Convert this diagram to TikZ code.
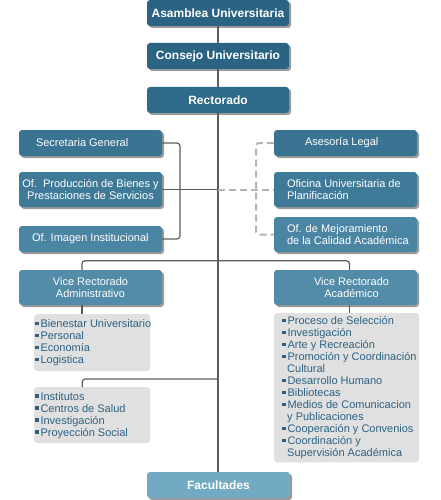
\documentclass[tikz,border=0pt]{standalone}
\usepackage{fontspec}
\setmainfont{Liberation Sans}
\usetikzlibrary{shadows}

\definecolor{topblue}{HTML}{2B6483}
\definecolor{rectblue}{HTML}{2E6A89}
\definecolor{rowa}{HTML}{3A7492}
\definecolor{rowb}{HTML}{3F7A99}
\definecolor{rowc}{HTML}{4A86A3}
\definecolor{viceblue}{HTML}{528CA9}
\definecolor{facblue}{HTML}{73AAC3}
\definecolor{listgray}{HTML}{E0E0E0}
\definecolor{itemblue}{HTML}{2D6283}
\definecolor{linegray}{HTML}{5C5C5C}
\definecolor{dashgray}{HTML}{B4B4B4}
\definecolor{shadowgray}{HTML}{9A9A9A}

\newcommand{\itm}[1]{\mbox{\rule[2.5pt]{3.5pt}{3.5pt}\,#1}}
\newcommand{\cnt}[1]{\mbox{\hspace*{5pt}#1}}

\begin{document}
\begin{tikzpicture}[x=1pt, y=-1pt,
    unit/.style={rounded corners=3pt, text=white, inner sep=0pt, minimum width=143pt, minimum height=26pt,
        font=\fontsize{11}{12}\selectfont,
        drop shadow={shadow xshift=2pt, shadow yshift=-2pt, fill=shadowgray, opacity=1}},
    head/.style={unit, fill=topblue, minimum width=142pt, font=\fontsize{12}{13}\bfseries\selectfont},
    lbox/.style={unit, align=flush left},
    list/.style={rounded corners=3pt, fill=listgray, text=itemblue, anchor=north west, align=flush left,
        font=\fontsize{11}{12}\selectfont},
    line/.style={linegray, line width=1.2pt},
    dline/.style={dashgray, line width=2pt, dash pattern=on 7pt off 4pt}]
    \useasboundingbox (0,0) rectangle (440,500);

    % top of the chart
    \node[head] (asam) at (218,13) {Asamblea Universitaria};
    \node[head] (cons) at (218,56) {Consejo Universitario};
    \node[head, fill=rectblue] (rect) at (218,100) {Rectorado};

    % staff offices
    \node[lbox, fill=rowa, text width=109pt, inner xsep=17pt] (sec) at (90.5,143) {\mbox{Secretaria General}};
    \node[unit, fill=rowb, minimum height=35pt, align=center] (prod) at (90.5,189.5) {Of.\ \ Producción de Bienes y\\Prestaciones de Servicios};
    \node[lbox, fill=rowc, text width=117pt, inner xsep=13pt] (img) at (90.5,239) {\mbox{Of. Imagen Institucional}};
    \node[lbox, fill=rowa, text width=81pt, inner xsep=31pt] (ase) at (345.5,143) {\mbox{Asesoría Legal}};
    \node[lbox, fill=rowb, minimum height=35pt, text width=117pt, inner xsep=13pt] (ofi) at (345.5,189.5) {\mbox{Oficina Universitaria de}\\\mbox{Planificación}};
    \node[lbox, fill=rowc, minimum height=35pt, text width=117pt, inner xsep=13pt] (mej) at (345.5,234.5) {\mbox{Of. de Mejoramiento}\\\mbox{de la Calidad Académica}};

    % vice rectorados
    \node[unit, fill=viceblue, minimum height=35pt, align=center] (via) at (90.5,287.5) {Vice Rectorado\\Administrativo};
    \node[unit, fill=viceblue, minimum height=35pt, align=center] (vac) at (345.5,287.5) {\hspace*{12pt}Vice Rectorado\\\hspace*{12pt}Académico};

    % lists
    \node[list, minimum width=116pt, minimum height=57pt, text width=114pt, inner xsep=1pt] (lsta) at (34,314)
        {\itm{Bienestar Universitario}\\\itm{Personal}\\\itm{Economía}\\\itm{Logistica}};
    \node[list, minimum width=116pt, minimum height=56pt, text width=114pt, inner xsep=1pt] (lstb) at (34,387)
        {\itm{Institutos}\\\itm{Centros de Salud}\\\itm{Investigación}\\\itm{Proyección Social}};
    \node[list, minimum width=145pt, minimum height=149pt, text width=129pt, inner xsep=8pt] (lstc) at (274,313)
        {\itm{Proceso de Selección}\\\itm{Investigación}\\\itm{Arte y Recreación}\\\itm{Promoción y Coordinación}\\
         \cnt{Cultural}\\\itm{Desarrollo Humano}\\\itm{Bibliotecas}\\\itm{Medios de Comunicacion}\\
         \cnt{y Publicaciones}\\\itm{Cooperación y Convenios}\\\itm{Coordinación y}\\
         \cnt{Supervisión Académica}};

    % bottom
    \node[head, fill=facblue, minimum width=143pt] (fac) at (218.5,485) {Facultades};

    % connectors
    \coordinate (hub) at (rect.south |- prod.east);
    \coordinate (hubb) at (218,379);
    \draw[line] (asam) -- (cons);
    \draw[line] (cons) -- (rect);
    \draw[line] (rect.south) -- (rect.south |- fac.north);
    \draw[line, rounded corners=3pt] (sec.east) -- (180,143) -- (180,239) -- (img.east);
    \draw[line] (prod.east) -- (hub);
    \draw[dline] (hub) -- (ofi.west);
    \draw[dline, rounded corners=3pt] (ase.west) -- (256,143) -- (256,234.5) -- (mej.west);
    \draw[line, rounded corners=3pt] ([xshift=-8.5pt]via.north) -- ++(0,-9) -| ([xshift=4pt]vac.north);
    \draw[line] ([xshift=-8.5pt]via.south) -- ([xshift=-8.5pt]via.south |- lsta.north);
    \draw[line] ([xshift=4pt]vac.south) -- ([xshift=4pt]vac.south |- lstc.north);
    \draw[line, rounded corners=3pt] (hubb) -| ([xshift=-10pt]lstb.north);
\end{tikzpicture}
\end{document}
